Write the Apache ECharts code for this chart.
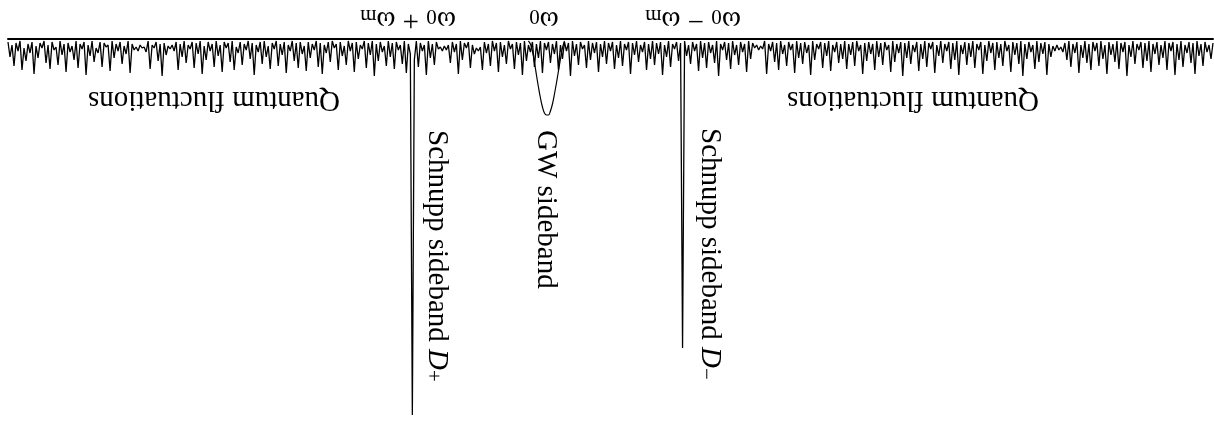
<!DOCTYPE html>
<html>
<head>
<meta charset="utf-8">
<title>Schnupp and GW sidebands</title>
<script src="https://cdn.jsdelivr.net/npm/echarts@6/dist/echarts.min.js"></script>
<style>
  html, body { margin: 0; padding: 0; background: #fff; }
  #chart { width: 1214px; height: 426px; }
</style>
</head>
<body>
<div id="chart"></div>
<script>
// Spectrum depth per frequency bin (the figure is drawn upside down: depth grows downward).
// Two narrow Schnupp lines sit inside the noise at bins 202 (D+) and 337 (D-).
const noiseDepth = [
  3,18,6,27,4,12,2,31,9,22,5,14,3,35,7,19,4,9,2,24,6,30,3,11,8,26,2,16,5,33,
  4,13,7,21,2,29,5,10,3,36,6,17,2,23,9,14,3,28,4,8,6,32,2,19,5,12,3,25,7,15,
  2,34,5,11,8,12,6,9,8,13,2,30,6,9,3,22,5,37,4,16,7,10,6,12,3,31,5,18,2,24,
  6,10,3,29,4,15,2,35,7,21,3,12,5,28,2,17,6,33,3,9,4,23,2,31,8,14,3,26,5,11,
  2,20,4,36,6,13,3,25,2,18,7,30,4,10,2,27,5,16,3,34,6,12,2,22,4,29,3,15,7,32,
  3,19,5,11,2,28,4,35,6,14,3,23,2,9,5,31,3,17,7,26,2,12,4,33,3,20,6,10,2,29,
  4,16,2,37,5,22,3,13,7,27,2,18,4,30,3,11,6,25,2,34,5,15,376,21,2,28,4,12,6,36,
  2,19,5,26,3,10,8,12,7,11,6,24,3,13,5,35,2,21,4,9,3,29,6,15,9,12,8,31,3,14,
  5,27,2,12,4,33,3,18,6,25,2,10,5,30,3,16,4,36,2,22,6,13,3,28,5,19,2,34,4,11,
  3,24,5,15,2,31,6,20,3,12,4,37,2,17,5,26,3,10,6,29,2,21,4,14,3,33,5,18,2,25,
  4,12,3,30,6,19,2,27,5,11,3,35,4,16,2,23,6,13,3,31,5,20,2,26,4,15,3,36,6,18,
  2,28,5,10,3,22,4,309,2,17,6,25,3,12,5,32,2,19,4,29,3,14,6,24,2,37,5,11,3,21,
  4,30,2,16,6,26,3,13,5,33,2,20,4,9,6,11,7,10,2,35,5,12,3,23,4,31,2,15,6,27,
  3,11,5,34,2,19,4,25,3,14,6,36,2,21,5,10,3,29,4,17,2,32,6,13,3,24,5,20,2,30,
  5,16,3,27,2,12,6,35,4,22,3,15,5,31,2,18,4,26,3,11,6,33,2,23,5,14,3,37,4,19,
  2,25,6,13,3,32,5,20,2,28,4,10,3,34,6,17,2,24,5,12,3,30,4,21,2,36,6,15,3,26,
  4,18,2,29,5,11,3,35,6,22,2,14,4,31,3,19,5,27,2,12,6,33,3,16,4,25,2,37,5,20,
  3,13,6,30,2,23,4,15,3,36,5,18,7,12,6,11,8,13,4,21,2,28,5,14,3,34,6,19,2,24,
  5,31,3,12,4,27,2,20,6,35,3,16,5,23,2,30,4,13,3,37,6,18,2,25,5,11,3,29,4,22,
  2,33,5,15,3,26,6,19,2,31,4,12,3,36,5,21,2,28,6,14,3,24,4,35,2,17,5,27,3,13,
  6,20,4
];

// GW sideband: smooth bump over bins 260..278
const gwStartBin = 260;
const gwDepth = [2, 5, 12, 23, 36, 48, 59, 68, 74, 76, 76, 72, 65, 55, 44, 32, 20, 9, 2];

// Frequency bins (category axis)
const bins = noiseDepth.map((_, i) => String(i));
const gwSeries = bins.map((_, i) => {
  const k = i - gwStartBin;
  return (k >= 0 && k < gwDepth.length) ? gwDepth[k] : null;
});

// Text drawn on the figure
const labelFluct = 'Quantum fluctuations';
const labelPlus = '{w|ω}{s|0} + {w|ω}{s|m}';
const labelCenter = '{w|ω}{s|0}';
const labelMinus = '{w|ω}{s|0} − {w|ω}{s|m}';
const labelDPlus = 'Schnupp sideband {i|D}{s|+}';
const labelGW = 'GW sideband';
const labelDMinus = 'Schnupp sideband {i|D}{s|−}';

const FONT = '"Liberation Serif", "Times New Roman", Times, serif';
const FS = 29;
const rich = {
  w: { fontSize: FS, fontFamily: FONT, lineHeight: FS, fill: '#000' },
  i: { fontSize: FS, fontFamily: FONT, fontStyle: 'italic', lineHeight: FS, fill: '#000' },
  s: { fontSize: 21, fontFamily: FONT, lineHeight: 12, verticalAlign: 'bottom', fill: '#000' }
};

function txt(text, x, y, rotation, align) {
  return {
    type: 'text', x: x, y: y, rotation: rotation, silent: true,
    style: {
      text: text, fontSize: FS, fontFamily: FONT, lineHeight: FS, fill: '#000',
      align: align, verticalAlign: 'middle', rich: rich
    }
  };
}

const chart = echarts.init(document.getElementById('chart'), null, { renderer: 'canvas' });
chart.setOption({
  backgroundColor: '#fff',
  animation: false,
  grid: { left: 8, right: 1, top: 39, height: 380, containLabel: false },
  xAxis: {
    type: 'category', data: bins, boundaryGap: false, position: 'top',
    axisLine: { show: true, onZero: false, lineStyle: { color: '#000', width: 2 } },
    axisTick: { show: false }, axisLabel: { show: false }, splitLine: { show: false }
  },
  yAxis: {
    type: 'value', min: 0, max: 380, inverse: true, show: false,
    splitLine: { show: false }
  },
  series: [
    {
      name: 'spectrum', type: 'line', data: noiseDepth, symbol: 'none',
      lineStyle: { color: '#000', width: 1.3 }, z: 3
    },
    {
      name: 'GW sideband', type: 'line', data: gwSeries, symbol: 'none', smooth: 0.4,
      connectNulls: false, lineStyle: { color: '#000', width: 1.2 }, z: 3
    }
  ],
  graphic: [
    txt(labelFluct, 214, 100, Math.PI, 'center'),
    txt(labelFluct, 913, 100, Math.PI, 'center'),
    txt(labelPlus, 408, 20, Math.PI, 'center'),
    txt(labelCenter, 544, 20, Math.PI, 'center'),
    txt(labelMinus, 693, 20, Math.PI, 'center'),
    txt(labelDPlus, 437, 130, -Math.PI / 2, 'left'),
    txt(labelGW, 546, 130, -Math.PI / 2, 'left'),
    txt(labelDMinus, 710, 128, -Math.PI / 2, 'left')
  ]
});
</script>
</body>
</html>
